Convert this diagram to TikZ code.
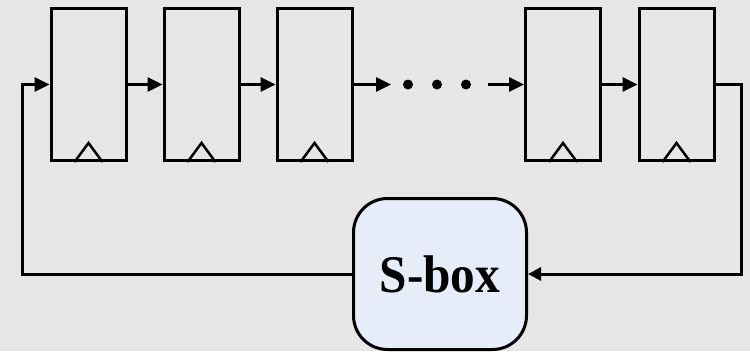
\documentclass[tikz,border=0pt]{standalone}
\usepackage{fontspec}
\usepackage{graphicx}
\setmainfont{Liberation Serif}
\usetikzlibrary{arrows.meta}
\definecolor{bgcol}{HTML}{E6E6E6}
\definecolor{boxfill}{HTML}{E6EDF8}
\tikzset{
  reg/.style={draw, line width=3pt, minimum width=75pt, minimum height=152pt, inner sep=0pt},
  sboxnode/.style={draw, line width=3pt, fill=boxfill, rounded corners=34pt,
    minimum width=173pt, minimum height=151pt, inner sep=0pt,
    font=\fontsize{53}{60}\selectfont\bfseries},
  wire/.style={line width=3pt},
  arr/.style={wire, -{Triangle[length=15pt,width=14pt]}},
  dotnode/.style={circle, fill=black, minimum size=10pt, inner sep=0pt},
  clk/.style={line width=2.5pt, line join=miter}
}
\begin{document}
\begin{tikzpicture}[x=1pt,y=-1pt]
  \fill[bgcol] (0,0) rectangle (750,351);
  \useasboundingbox (0,0) rectangle (750,351);

  % shift register stages
  \node[reg] (r1) at (88.5,84.5) {};
  \node[reg] (r2) at (201.5,84.5) {};
  \node[reg] (r3) at (314.5,84.5) {};
  \node[reg] (r4) at (563,84.5) {};
  \node[reg] (r5) at (676.5,84.5) {};

  % clock inputs
  \foreach \r in {r1,r2,r3,r4,r5}
    \draw[clk] (\r.south) ++(-14,0) -- ++(14,-19) -- ++(14,19);

  % ellipsis between stages
  \node[dotnode] (d1) at (408,84.5) {};
  \node[dotnode] (d2) at (437,84.5) {};
  \node[dotnode] (d3) at (466,84.5) {};
  \coordinate (gapin) at (391,84.5);
  \coordinate (gapout) at (488,84.5);

  % non-linear feedback block
  \node[sboxnode] (sb) at (440,274) {\scalebox{0.93}[1]{S-box}};

  % forward connections
  \draw[arr] (r1.east) -- (r2.west);
  \draw[arr] (r2.east) -- (r3.west);
  \draw[arr] (r3.east) -- (gapin);
  \draw[arr] (gapout) -- (r4.west);
  \draw[arr] (r4.east) -- (r5.west);

  % feedback loop through the S-box
  \coordinate (cr) at (741.5,84.5);
  \coordinate (cl) at (22.5,84.5);
  \draw[wire, -{Triangle[length=13pt,width=13pt]}] (r5.east) -- (cr) |- (sb.east);
  \draw[arr] (sb.west) -| (cl) -- (r1.west);
\end{tikzpicture}
\end{document}
